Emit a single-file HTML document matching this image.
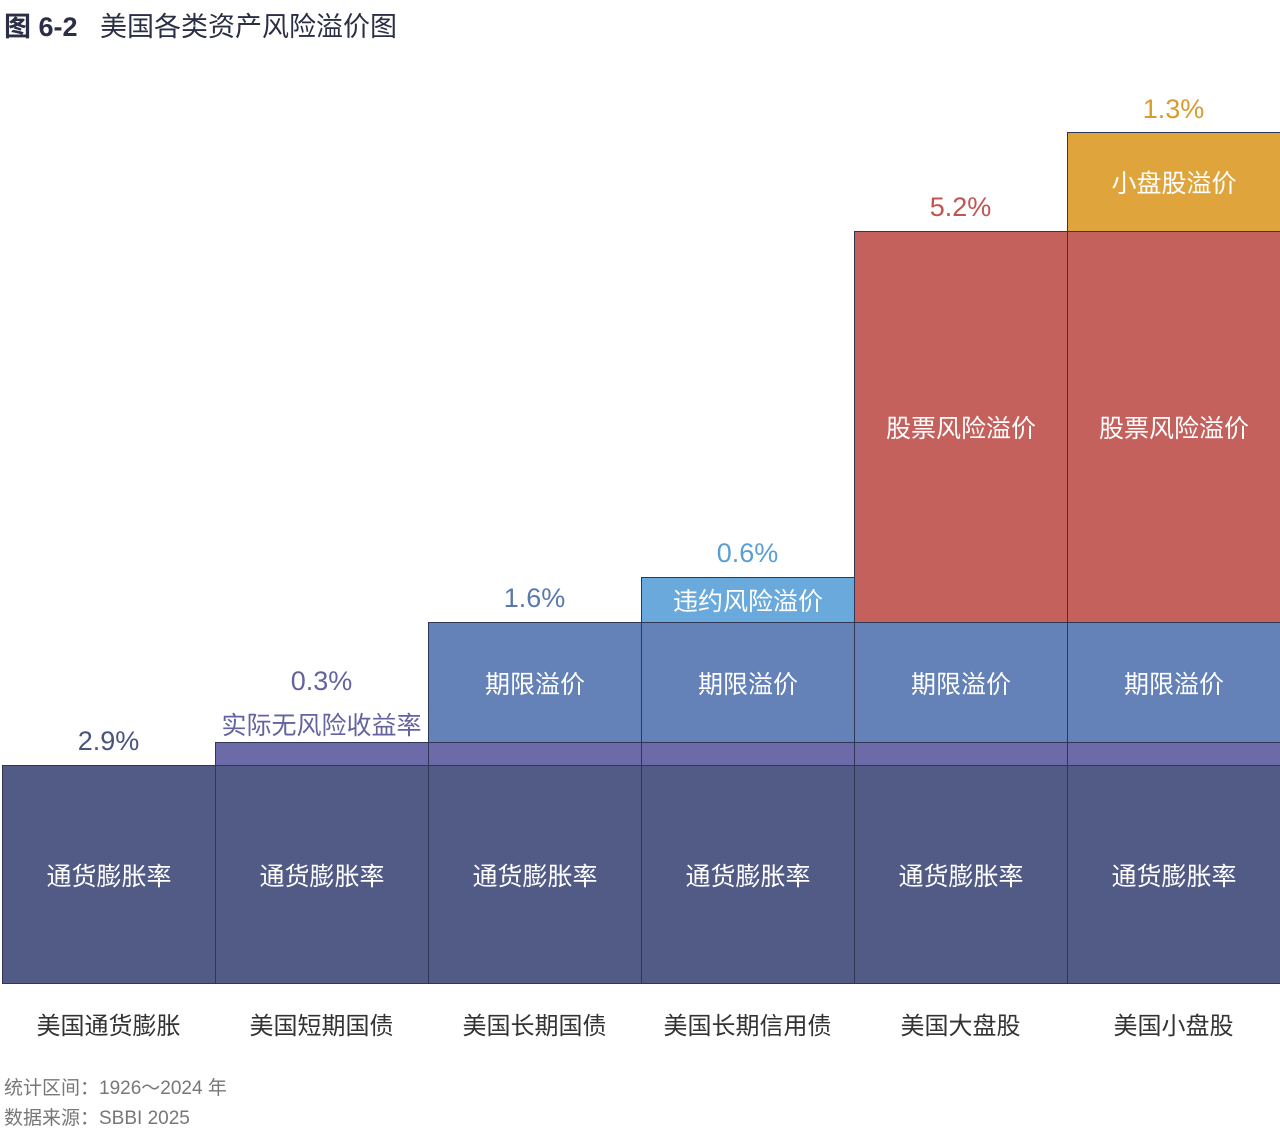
<!DOCTYPE html>
<html><head><meta charset="utf-8"><style>
body{margin:0;width:1280px;height:1134px;background:#fff;position:relative;overflow:hidden;font-family:"Liberation Sans","Noto Sans CJK SC",sans-serif}
.b{position:absolute;box-sizing:border-box;border:1px solid #2f3656;color:#fff;font-size:25px;display:flex;align-items:center;justify-content:center}
.t{position:absolute;font-size:27px;text-align:center;width:213px}
.x{position:absolute;top:1006px;width:213px;text-align:center;font-size:24px;color:#333}
.inf{background:#525a86}.real{background:#6c6aa8}.term{background:#6482b8}.def{background:#6aa9dc}.eq{background:#c5615c}.sm{background:#e0a43c}
</style></head><body>
<div style="position:absolute;left:4px;top:5px;font-size:27px;color:#2b2f45"><b>图 6-2</b>&nbsp;&nbsp; 美国各类资产风险溢价图</div>

<div class="b inf" style="left:2px;top:765px;width:214px;height:219px">通货膨胀率</div>
<div class="b inf" style="left:215px;top:765px;width:214px;height:219px">通货膨胀率</div>
<div class="b inf" style="left:428px;top:765px;width:214px;height:219px">通货膨胀率</div>
<div class="b inf" style="left:641px;top:765px;width:214px;height:219px">通货膨胀率</div>
<div class="b inf" style="left:854px;top:765px;width:214px;height:219px">通货膨胀率</div>
<div class="b inf" style="left:1067px;top:765px;width:214px;height:219px">通货膨胀率</div>

<div class="b real" style="left:215px;top:742px;width:214px;height:24px"></div>
<div class="b real" style="left:428px;top:742px;width:214px;height:24px"></div>
<div class="b real" style="left:641px;top:742px;width:214px;height:24px"></div>
<div class="b real" style="left:854px;top:742px;width:214px;height:24px"></div>
<div class="b real" style="left:1067px;top:742px;width:214px;height:24px"></div>

<div class="b term" style="left:428px;top:622px;width:214px;height:121px">期限溢价</div>
<div class="b term" style="left:641px;top:622px;width:214px;height:121px">期限溢价</div>
<div class="b term" style="left:854px;top:622px;width:214px;height:121px">期限溢价</div>
<div class="b term" style="left:1067px;top:622px;width:214px;height:121px">期限溢价</div>

<div class="b def" style="left:641px;top:577px;width:214px;height:46px">违约风险溢价</div>
<div class="b eq" style="left:854px;top:231px;width:214px;height:392px">股票风险溢价</div>
<div class="b eq" style="left:1067px;top:231px;width:214px;height:392px">股票风险溢价</div>
<div class="b sm" style="left:1067px;top:132px;width:214px;height:100px">小盘股溢价</div>

<div class="t" style="left:2px;top:726px;color:#4a5280">2.9%</div>
<div class="t" style="left:215px;top:666px;color:#6463a0">0.3%</div>
<div style="position:absolute;left:215px;top:706px;width:213px;text-align:center;font-size:25px;color:#6463a0">实际无风险收益率</div>
<div class="t" style="left:428px;top:583px;color:#5a78b0">1.6%</div>
<div class="t" style="left:641px;top:538px;color:#5a9ed6">0.6%</div>
<div class="t" style="left:854px;top:192px;color:#c0554f">5.2%</div>
<div class="t" style="left:1067px;top:94px;color:#d99a2e">1.3%</div>

<div class="x" style="left:2px">美国通货膨胀</div>
<div class="x" style="left:215px">美国短期国债</div>
<div class="x" style="left:428px">美国长期国债</div>
<div class="x" style="left:641px">美国长期信用债</div>
<div class="x" style="left:854px">美国大盘股</div>
<div class="x" style="left:1067px">美国小盘股</div>

<div style="position:absolute;left:4px;top:1074px;font-size:19px;color:#777;line-height:30px">统计区间：1926～2024 年<br>数据来源：SBBI 2025</div>
</body></html>
